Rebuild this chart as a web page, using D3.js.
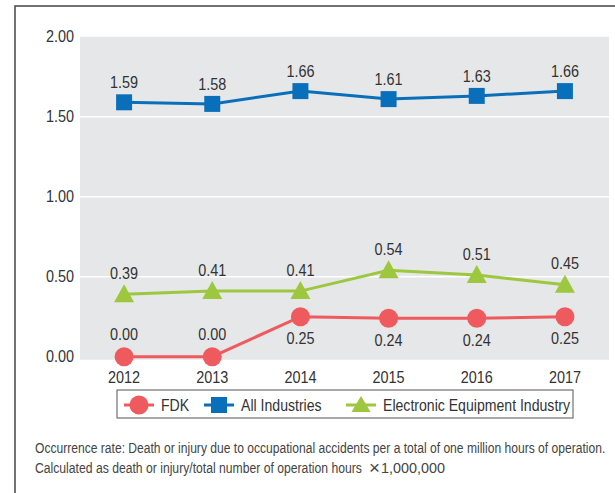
<!DOCTYPE html>
<html>
<head>
<meta charset="utf-8">
<script src="https://d3js.org/d3.v7.min.js"></script>
<style>
body { margin: 0; background: #fff; }
text { font-family: "Liberation Sans", Arial, sans-serif; fill: #333; }
</style>
</head>
<body>
<div id="chart"></div>
<script>
var years = ["2012", "2013", "2014", "2015", "2016", "2017"];
var fdk = [0.00, 0.00, 0.25, 0.24, 0.24, 0.25];
var allInd = [1.59, 1.58, 1.66, 1.61, 1.63, 1.66];
var elec = [0.39, 0.41, 0.41, 0.54, 0.51, 0.45];
var yTicks = [0, 0.5, 1, 1.5, 2];
var seriesNames = ["FDK", "All Industries", "Electronic Equipment Industry"];
var note1 = "Occurrence rate: Death or injury due to occupational accidents per a total of one million hours of operation.";
var note2a = "Calculated as death or injury/total number of operation hours";
var note2b = "1,000,000";

var width = 615, height = 493;

var svg = d3.select("#chart").append("svg")
  .attr("width", width)
  .attr("height", height);

// squeeze text horizontally to mimic the condensed face
function condense(sel, k) {
  sel.each(function() {
    var w = this.getComputedTextLength();
    d3.select(this)
      .attr("textLength", w * k)
      .attr("lengthAdjust", "spacingAndGlyphs");
  });
}

// footnote text: left-aligned, stretched to a given width with a transform
function fitText(g, str, x0, y0, w, size) {
  var t = g.append("text")
    .attr("font-size", size)
    .style("fill", "#444")
    .text(str);
  var k = w / t.node().getComputedTextLength();
  t.attr("transform", "translate(" + x0 + "," + y0 + ") scale(" + k + ",1)");
  return t;
}

// outer frame (left + top)
svg.append("path")
  .attr("d", "M15," + height + "V6H" + width)
  .attr("fill", "none")
  .attr("stroke", "#444")
  .attr("stroke-width", 1.5);

var x = d3.scaleBand().domain(years).range([80, 609]);
var y = d3.scaleLinear().domain([0, 2]).range([356.7, 36.7]);
function cx(d, i) { return x(years[i]) + x.bandwidth() / 2; }

// plot background
svg.append("rect")
  .attr("x", 80).attr("y", y(2))
  .attr("width", 529).attr("height", y(0) - y(2) + 3)
  .attr("fill", "#e6e7e8");

// gridlines
svg.append("g").selectAll("line")
  .data(yTicks.filter(function(t) { return t > 0 && t < 2; }))
  .enter().append("line")
  .attr("x1", 80).attr("x2", 609)
  .attr("y1", function(d) { return y(d); })
  .attr("y2", function(d) { return y(d); })
  .attr("stroke", "#fff")
  .attr("stroke-width", 1.5);

// y tick labels
svg.append("g").selectAll("text")
  .data(yTicks)
  .enter().append("text")
  .attr("x", 74)
  .attr("y", function(d) { return y(d); })
  .attr("dy", "0.36em")
  .attr("text-anchor", "end")
  .attr("font-size", 16)
  .text(function(d) { return d3.format(".2f")(d); })
  .call(condense, 0.9);

// x labels
svg.append("g").selectAll("text")
  .data(years)
  .enter().append("text")
  .attr("x", function(d, i) { return cx(d, i); })
  .attr("y", 383)
  .attr("text-anchor", "middle")
  .attr("font-size", 16)
  .text(function(d) { return d; })
  .call(condense, 0.9);

var line = d3.line()
  .x(function(d, i) { return cx(d, i); })
  .y(function(d) { return y(d); });

var colors = ["#ef5a5f", "#0a6fba", "#9dc73e"];

function drawSeries(vals, color, marker, labelPos) {
  var g = svg.append("g");
  g.append("path")
    .attr("d", line(vals))
    .attr("fill", "none")
    .attr("stroke", color)
    .attr("stroke-width", 3);
  g.selectAll("path.m")
    .data(vals)
    .enter().append("path")
    .attr("class", "m")
    .attr("transform", function(d, i) { return "translate(" + cx(d, i) + "," + y(d) + ")"; })
    .attr("d", marker)
    .attr("fill", color);
  g.selectAll("text")
    .data(vals)
    .enter().append("text")
    .attr("x", function(d, i) { return cx(d, i); })
    .attr("y", function(d, i) { return y(d) + labelPos(i); })
    .attr("dy", "0.36em")
    .attr("text-anchor", "middle")
    .attr("font-size", 16)
    .text(function(d) { return d3.format(".2f")(d); })
    .call(condense, 0.9);
}

var circleM = d3.symbol().type(d3.symbolCircle).size(Math.PI * 9.5 * 9.5)();
var squareM = d3.symbol().type(d3.symbolSquare).size(16 * 16)();
var triM = "M0,-10L10,8L-10,8Z";

drawSeries(elec, colors[2], triM, function() { return -21; });
drawSeries(fdk, colors[0], circleM, function(i) { return i < 2 ? -22 : 22; });
drawSeries(allInd, colors[1], squareM, function() { return -20; });

// legend
var leg = svg.append("g");
leg.append("rect")
  .attr("x", 117).attr("y", 390)
  .attr("width", 456).attr("height", 28)
  .attr("fill", "#fff")
  .attr("stroke", "#555")
  .attr("stroke-width", 1);
var legX = [139, 219, 361];
var legMarkers = [circleM, squareM, "M0,-9L9.5,7L-9.5,7Z"];
seriesNames.forEach(function(name, i) {
  var gi = leg.append("g").attr("transform", "translate(" + legX[i] + ",405)");
  gi.append("line")
    .attr("x1", -15).attr("x2", 15)
    .attr("stroke", colors[i])
    .attr("stroke-width", 3);
  gi.append("path")
    .attr("d", legMarkers[i])
    .attr("fill", colors[i]);
  gi.append("text")
    .attr("x", 22)
    .attr("dy", "0.36em")
    .attr("font-size", 16)
    .text(name)
    .call(condense, 0.88);
});

// footnote
var fn = svg.append("g");
fitText(fn, note1, 35, 453, 571, 15);
fitText(fn, note2a, 35, 473, 327, 15);
fitText(fn, "\u00d7", 369, 474, 11, 19);
fitText(fn, note2b, 381, 473, 64, 15);
</script>
</body>
</html>
